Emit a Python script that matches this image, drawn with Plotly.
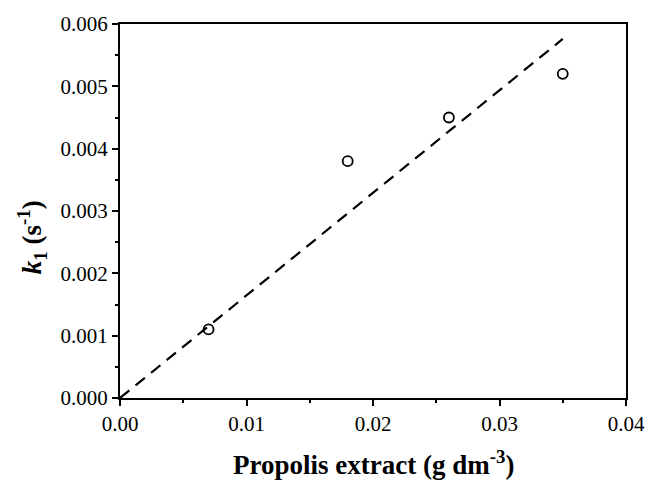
import plotly.graph_objects as go

# Data
conc = [0.007, 0.018, 0.026, 0.035]
k1 = [0.0011, 0.0038, 0.0045, 0.0052]
fit_x = [0.0, 0.035]
fit_y = [0.0, 0.00576]

x_ticks = [0.00, 0.01, 0.02, 0.03, 0.04]
x_ticklabels = ["0.00", "0.01", "0.02", "0.03", "0.04"]
y_ticks = [0.000, 0.001, 0.002, 0.003, 0.004, 0.005, 0.006]
y_ticklabels = ["0.000", "0.001", "0.002", "0.003", "0.004", "0.005", "0.006"]

x_title = "<b>Propolis extract (g dm<sup>-3</sup>)</b>"
y_title = "<b><i>k</i><sub>1</sub> (s<sup>-1</sup>)</b>"

font_family = "Times New Roman, Liberation Serif, DejaVu Serif, serif"

fig = go.Figure()
fig.add_trace(go.Scatter(
    x=fit_x, y=fit_y, mode="lines",
    line=dict(color="black", width=2.2, dash="12px,8px"),
    showlegend=False, hoverinfo="skip",
))
fig.add_trace(go.Scatter(
    x=conc, y=k1, mode="markers",
    marker=dict(symbol="circle-open", size=10, color="black", line=dict(width=1.8, color="black")),
    showlegend=False,
))

axis_common = dict(
    showline=True, linecolor="black", linewidth=2.2, mirror=True,
    ticks="outside", ticklen=6, tickwidth=2, tickcolor="black",
    showgrid=False, zeroline=False, automargin=False,
    ticklabeloverflow="allow",
    tickfont=dict(family=font_family, size=21, color="black"),
)

fig.update_xaxes(
    range=[0, 0.04], tickvals=x_ticks, ticktext=x_ticklabels,
    minor=dict(ticks="outside", ticklen=3, tickwidth=2, tickcolor="black", dtick=0.005, tick0=0),
    **axis_common,
)
fig.update_yaxes(
    range=[0, 0.006], tickvals=y_ticks, ticktext=y_ticklabels,
    minor=dict(ticks="outside", ticklen=3, tickwidth=2, tickcolor="black", dtick=0.0005, tick0=0),
    **axis_common,
)

fig.add_annotation(
    text=x_title, xref="paper", yref="paper", x=0.5, y=0,
    xanchor="center", yanchor="middle", yshift=-65, showarrow=False,
    font=dict(family=font_family, size=27, color="black"),
)
fig.add_annotation(
    text=y_title, xref="paper", yref="paper", x=0, y=0.43,
    xanchor="center", yanchor="middle", xshift=-88, textangle=-90, showarrow=False,
    font=dict(family=font_family, size=27, color="black"),
)

fig.update_layout(
    width=646, height=482,
    margin=dict(l=120, r=20, t=24, b=84),
    paper_bgcolor="white", plot_bgcolor="white",
)

fig.write_html("out.html", config={"displayModeBar": False},
               post_script="document.body.style.margin='0px';")
